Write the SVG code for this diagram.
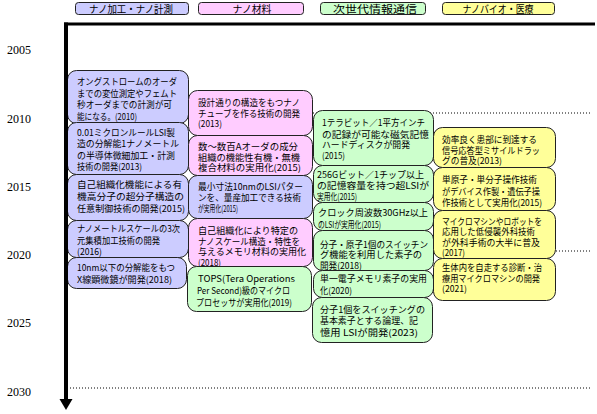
<svg xmlns="http://www.w3.org/2000/svg" width="597" height="414" viewBox="0 0 597 414">
<style>
.bx{stroke:#222;stroke-width:1}
.b{fill:#ccccff}.p{fill:#ffccff}.g{fill:#ccffcc}.y{fill:#ffff99}
.t{font-family:"Noto Sans CJK JP","Noto Sans",sans-serif;font-size:9px;fill:#000}
.h{font-family:"Noto Sans CJK JP","Noto Sans",sans-serif;font-size:10.5px;fill:#000;text-anchor:middle}
.yr{font-family:"Liberation Serif",serif;font-size:12px;fill:#000}
.dot{stroke:#000;stroke-width:1;stroke-dasharray:1 2;fill:none}
</style>
<defs>
<marker id="arr" markerUnits="userSpaceOnUse" markerWidth="12" markerHeight="14" refX="1" refY="6.5" orient="auto" viewBox="0 0 12 13">
<path d="M0,0 L11,6.5 L0,13 Z" fill="#000"/>
</marker>
</defs>
<rect width="597" height="414" fill="#fff"/>

<g id="years">
<text class="yr" x="7" y="54">2005</text>
<text class="yr" x="7" y="123">2010</text>
<text class="yr" x="7" y="191">2015</text>
<text class="yr" x="7" y="259">2020</text>
<text class="yr" x="7" y="327">2025</text>
<text class="yr" x="7" y="396">2030</text>
</g>

<g id="gridlines">
<line class="dot" x1="70" y1="113" x2="592" y2="113"/>
<line class="dot" x1="70" y1="251" x2="592" y2="251"/>
<line class="dot" x1="70" y1="388" x2="592" y2="388"/>
</g>

<g id="headers">
<g id="h1"><rect class="bx b" x="75.5" y="2.5" width="113" height="12" rx="3"/><text class="h" x="131" y="12.5" textLength="84" lengthAdjust="spacingAndGlyphs">ナノ加工・ナノ計測</text></g>
<g id="h2"><rect class="bx p" x="198.5" y="2.5" width="105" height="12" rx="3"/><text class="h" x="252" y="12.5" textLength="39" lengthAdjust="spacingAndGlyphs">ナノ材料</text></g>
<g id="h3"><rect class="bx g" x="320.5" y="2.5" width="105" height="12" rx="3"/><text class="h" x="375" y="12.5" textLength="84" lengthAdjust="spacingAndGlyphs">次世代情報通信</text></g>
<g id="h4"><rect class="bx y" x="442.5" y="2.5" width="112" height="12" rx="3"/><text class="h" x="498" y="12.5" textLength="71" lengthAdjust="spacingAndGlyphs">ナノバイオ・医療</text></g>
</g>

<g id="col1">
<g id="n1"><rect class="bx b" x="67.5" y="70.5" width="121" height="53" rx="9"/>
<text class="t" x="77" y="85" textLength="100" lengthAdjust="spacingAndGlyphs">オングストロームのオーダ</text>
<text class="t" x="77" y="96.5" textLength="100" lengthAdjust="spacingAndGlyphs">までの変位測定やフェムト</text>
<text class="t" x="77" y="108" textLength="95" lengthAdjust="spacingAndGlyphs">秒オーダまでの計測が可</text>
<text class="t" x="77" y="119.5" textLength="60" lengthAdjust="spacingAndGlyphs">能になる。(2010)</text></g>
<g id="n2"><rect class="bx b" x="67.5" y="122.5" width="121" height="52" rx="9"/>
<text class="t" x="77" y="135.5" textLength="98" lengthAdjust="spacingAndGlyphs">0.01ミクロンルールLSI製</text>
<text class="t" x="77" y="147" textLength="102" lengthAdjust="spacingAndGlyphs">造の分解能1ナノメートル</text>
<text class="t" x="77" y="158.5" textLength="98" lengthAdjust="spacingAndGlyphs">の半導体微細加工・計測</text>
<text class="t" x="77" y="170" textLength="65" lengthAdjust="spacingAndGlyphs">技術の開発(2013)</text></g>
<g id="n3"><rect class="bx b" x="67.5" y="174.5" width="121" height="46" rx="9"/>
<text class="t" x="77" y="188" textLength="105" lengthAdjust="spacingAndGlyphs">自己組織化機能による有</text>
<text class="t" x="77" y="200" textLength="107" lengthAdjust="spacingAndGlyphs">機高分子の超分子構造の</text>
<text class="t" x="77" y="211.5" textLength="108" lengthAdjust="spacingAndGlyphs">任意制御技術の開発(2015)</text></g>
<g id="n4"><rect class="bx b" x="67.5" y="220.5" width="121" height="37" rx="9"/>
<text class="t" x="77" y="232" textLength="103" lengthAdjust="spacingAndGlyphs">ナノメートルスケールの3次</text>
<text class="t" x="77" y="243.5" textLength="83" lengthAdjust="spacingAndGlyphs">元集積加工技術の開発</text>
<text class="t" x="77" y="255" textLength="25" lengthAdjust="spacingAndGlyphs">(2016)</text></g>
<g id="n5"><rect class="bx b" x="67.5" y="257.5" width="119" height="31" rx="9"/>
<text class="t" x="77" y="271" textLength="98" lengthAdjust="spacingAndGlyphs">10nm以下の分解能をもつ</text>
<text class="t" x="77" y="283" textLength="95" lengthAdjust="spacingAndGlyphs">X線顕微鏡が開発(2018)</text></g>
</g>

<g id="col2">
<g id="n6"><rect class="bx p" x="188.5" y="90.5" width="124" height="45" rx="9"/>
<text class="t" x="198" y="106" textLength="102" lengthAdjust="spacingAndGlyphs">設計通りの構造をもつナノ</text>
<text class="t" x="198" y="116.5" textLength="102" lengthAdjust="spacingAndGlyphs">チューブを作る技術の開発</text>
<text class="t" x="198" y="127" textLength="24" lengthAdjust="spacingAndGlyphs">(2013)</text></g>
<g id="n7"><rect class="bx p" x="188.5" y="135.5" width="124" height="40" rx="9"/>
<text class="t" x="198" y="149.5" textLength="100" lengthAdjust="spacingAndGlyphs">数～数百Aオーダの成分</text>
<text class="t" x="198" y="160.5" textLength="102" lengthAdjust="spacingAndGlyphs">組織の機能性有機・無機</text>
<text class="t" x="198" y="171" textLength="103" lengthAdjust="spacingAndGlyphs">複合材料の実用化(2015)</text></g>
<g id="n8"><rect class="bx b" x="188.5" y="175.5" width="124" height="43" rx="9"/>
<text class="t" x="198" y="190" textLength="105" lengthAdjust="spacingAndGlyphs">最小寸法10nmのLSIパター</text>
<text class="t" x="198" y="200.5" textLength="103" lengthAdjust="spacingAndGlyphs">ンを、量産加工できる技術</text>
<text class="t" x="198" y="211.5" textLength="40" lengthAdjust="spacingAndGlyphs">が実用化(2015)</text></g>
<g id="n9"><rect class="bx p" x="188.5" y="218.5" width="124" height="48" rx="9"/>
<text class="t" x="198" y="234" textLength="100" lengthAdjust="spacingAndGlyphs">自己組織化により特定の</text>
<text class="t" x="198" y="244.5" textLength="102" lengthAdjust="spacingAndGlyphs">ナノスケール構造・特性を</text>
<text class="t" x="198" y="255" textLength="108" lengthAdjust="spacingAndGlyphs">与えるメモリ材料の実用化</text>
<text class="t" x="198" y="265.5" textLength="23" lengthAdjust="spacingAndGlyphs">(2018)</text></g>
<g id="n10"><rect class="bx g" x="187.5" y="266.5" width="124" height="45" rx="9"/>
<text class="t" x="198" y="282" textLength="97" lengthAdjust="spacingAndGlyphs">TOPS(Tera Operations</text>
<text class="t" x="197" y="294" textLength="93" lengthAdjust="spacingAndGlyphs">Per Second)級のマイクロ</text>
<text class="t" x="196" y="305.5" textLength="96" lengthAdjust="spacingAndGlyphs">プロセッサが実用化(2019)</text></g>
</g>

<g id="col3">
<g id="n11"><rect class="bx g" x="313.5" y="110.5" width="120" height="55" rx="9"/>
<text class="t" x="322" y="126" textLength="103" lengthAdjust="spacingAndGlyphs">1テラビット／1平方インチ</text>
<text class="t" x="322" y="137.5" textLength="107" lengthAdjust="spacingAndGlyphs">の記録が可能な磁気記憶</text>
<text class="t" x="322" y="148" textLength="88" lengthAdjust="spacingAndGlyphs">ハードディスクが開発</text>
<text class="t" x="322" y="158.5" textLength="23" lengthAdjust="spacingAndGlyphs">(2015)</text></g>
<g id="n12"><rect class="bx g" x="313.5" y="165.5" width="120" height="37" rx="9"/>
<text class="t" x="317" y="178" textLength="107" lengthAdjust="spacingAndGlyphs">256Gビット／1チップ以上</text>
<text class="t" x="317" y="189" textLength="112" lengthAdjust="spacingAndGlyphs">の記憶容量を持つ超LSIが</text>
<text class="t" x="317" y="200" textLength="40" lengthAdjust="spacingAndGlyphs">実用化(2015)</text></g>
<g id="n13"><rect class="bx g" x="313.5" y="202.5" width="120" height="28" rx="9"/>
<text class="t" x="318" y="216" textLength="110" lengthAdjust="spacingAndGlyphs">クロック周波数30GHz以上</text>
<text class="t" x="318" y="228" textLength="63" lengthAdjust="spacingAndGlyphs">のLSIが実用化(2015)</text></g>
<g id="n14"><rect class="bx g" x="313.5" y="230.5" width="120" height="40" rx="9"/>
<text class="t" x="320" y="247.5" textLength="108" lengthAdjust="spacingAndGlyphs">分子・原子1個のスイッチン</text>
<text class="t" x="320" y="258" textLength="102" lengthAdjust="spacingAndGlyphs">グ機能を利用した素子の</text>
<text class="t" x="320" y="268.5" textLength="42" lengthAdjust="spacingAndGlyphs">開発(2018)</text></g>
<g id="n15"><rect class="bx g" x="313.5" y="270.5" width="120" height="27" rx="9"/>
<text class="t" x="320" y="282" textLength="107" lengthAdjust="spacingAndGlyphs">単一電子メモリ素子の実用</text>
<text class="t" x="320" y="293.5" textLength="32" lengthAdjust="spacingAndGlyphs">化(2020)</text></g>
<g id="n16"><rect class="bx g" x="312.5" y="297.5" width="120" height="45" rx="9"/>
<text class="t" x="320" y="313" textLength="105" lengthAdjust="spacingAndGlyphs">分子1個をスイッチングの</text>
<text class="t" x="320" y="324" textLength="98" lengthAdjust="spacingAndGlyphs">基本素子とする論理、記</text>
<text class="t" x="320" y="335.5" textLength="98" lengthAdjust="spacingAndGlyphs">憶用 LSIが開発(2023)</text></g>
</g>

<g id="col4">
<g id="n17"><rect class="bx y" x="433.5" y="127.5" width="122" height="40" rx="9"/>
<text class="t" x="442" y="143" textLength="95" lengthAdjust="spacingAndGlyphs">効率良く患部に到達する</text>
<text class="t" x="442" y="153.5" textLength="98" lengthAdjust="spacingAndGlyphs">信号応答型ミサイルドラッ</text>
<text class="t" x="442" y="164" textLength="60" lengthAdjust="spacingAndGlyphs">グの普及(2013)</text></g>
<g id="n18"><rect class="bx y" x="433.5" y="167.5" width="122" height="43" rx="9"/>
<text class="t" x="442" y="183" textLength="95" lengthAdjust="spacingAndGlyphs">単原子・単分子操作技術</text>
<text class="t" x="442" y="195" textLength="98" lengthAdjust="spacingAndGlyphs">がデバイス作製・遺伝子操</text>
<text class="t" x="442" y="206" textLength="100" lengthAdjust="spacingAndGlyphs">作技術として実用化(2015)</text></g>
<g id="n19"><rect class="bx y" x="433.5" y="210.5" width="122" height="48" rx="9"/>
<text class="t" x="442" y="224.5" textLength="100" lengthAdjust="spacingAndGlyphs">マイクロマシンやロボットを</text>
<text class="t" x="442" y="235" textLength="93" lengthAdjust="spacingAndGlyphs">応用した低侵襲外科技術</text>
<text class="t" x="442" y="245.5" textLength="98" lengthAdjust="spacingAndGlyphs">が外科手術の大半に普及</text>
<text class="t" x="442" y="256" textLength="23" lengthAdjust="spacingAndGlyphs">(2017)</text></g>
<g id="n20"><rect class="bx y" x="433.5" y="258.5" width="122" height="42" rx="9"/>
<text class="t" x="442" y="271" textLength="100" lengthAdjust="spacingAndGlyphs">生体内を自走する診断・治</text>
<text class="t" x="442" y="281.5" textLength="98" lengthAdjust="spacingAndGlyphs">療用マイクロマシンの開発</text>
<text class="t" x="442" y="292" textLength="25" lengthAdjust="spacingAndGlyphs">(2021)</text></g>
</g>

<g id="connectors">
<line x1="64" y1="24" x2="595" y2="24" stroke="#000" stroke-width="3"/>
<line x1="66" y1="22.5" x2="66" y2="400" stroke="#000" stroke-width="4" marker-end="url(#arr)"/>
</g>
</svg>
